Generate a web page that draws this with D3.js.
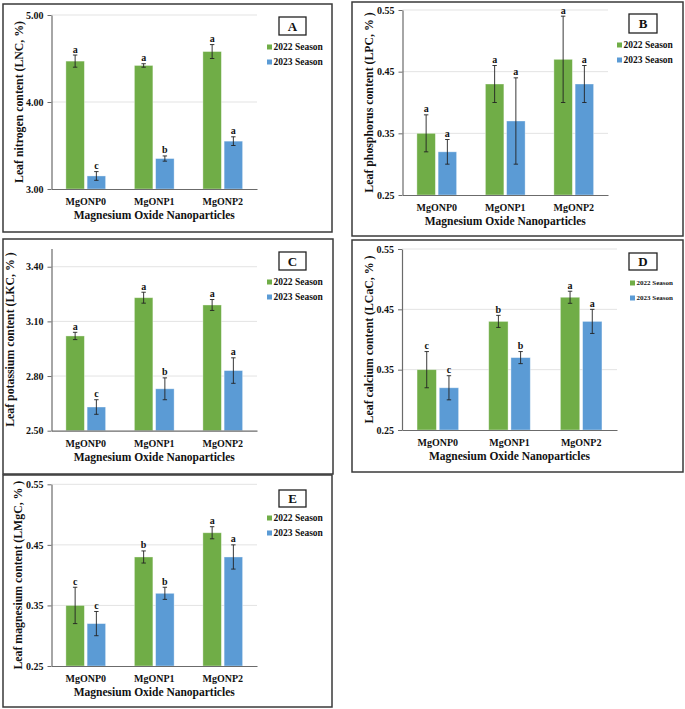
<!DOCTYPE html>
<html>
<head>
<meta charset="utf-8">
<script src="https://cdn.jsdelivr.net/npm/d3@7"></script>
<style>
  body { margin: 0; background: #fff; }
  svg { display: block; }
  text { font-family: "Liberation Serif", "Times New Roman", serif; font-weight: bold; fill: #111; }
</style>
</head>
<body>
<div id="chart"></div>
<script>
// Shared categories and series
const categories = ["MgONP0", "MgONP1", "MgONP2"];
const seasons = ["2022 Season", "2023 Season"];
const seasonColors = ["#70AD47", "#5B9BD5"];

// A - nitrogen
const nitrogen2022 = [4.47, 4.42, 4.58];
const nitrogen2023 = [3.15, 3.35, 3.55];
const nitrogenErr2022 = [0.07, 0.02, 0.08];
const nitrogenErr2023 = [0.05, 0.03, 0.05];
const nitrogenLetters2022 = ["a", "a", "a"];
const nitrogenLetters2023 = ["c", "b", "a"];
const nitrogenTicks = [3.0, 4.0, 5.0];

// B - phosphorus
const phosphorus2022 = [0.35, 0.43, 0.47];
const phosphorus2023 = [0.32, 0.37, 0.43];
const phosphorusErr2022 = [0.03, 0.03, 0.07];
const phosphorusErr2023 = [0.02, 0.07, 0.03];
const phosphorusLetters2022 = ["a", "a", "a"];
const phosphorusLetters2023 = ["a", "a", "a"];
const phosphorusTicks = [0.25, 0.35, 0.45, 0.55];

// C - potassium
const potassium2022 = [3.02, 3.23, 3.19];
const potassium2023 = [2.63, 2.73, 2.83];
const potassiumErr2022 = [0.02, 0.03, 0.03];
const potassiumErr2023 = [0.04, 0.06, 0.07];
const potassiumLetters2022 = ["a", "a", "a"];
const potassiumLetters2023 = ["c", "b", "a"];
const potassiumTicks = [2.5, 2.8, 3.1, 3.4];

// D - calcium
const calcium2022 = [0.35, 0.43, 0.47];
const calcium2023 = [0.32, 0.37, 0.43];
const calciumErr2022 = [0.03, 0.01, 0.01];
const calciumErr2023 = [0.02, 0.01, 0.02];
const calciumLetters2022 = ["c", "b", "a"];
const calciumLetters2023 = ["c", "b", "a"];
const calciumTicks = [0.25, 0.35, 0.45, 0.55];

// E - magnesium
const magnesium2022 = [0.35, 0.43, 0.47];
const magnesium2023 = [0.32, 0.37, 0.43];
const magnesiumErr2022 = [0.03, 0.01, 0.01];
const magnesiumErr2023 = [0.02, 0.01, 0.02];
const magnesiumLetters2022 = ["c", "b", "a"];
const magnesiumLetters2023 = ["c", "b", "a"];
const magnesiumTicks = [0.25, 0.35, 0.45, 0.55];

const xTitle = "Magnesium Oxide Nanoparticles";

// Panel layout (page pixels)
const panels = [
  { tag: "A", yTitle: "Leaf nitrogen content (LNC, %)", domain: [3, 5], ticks: nitrogenTicks,
    values: [nitrogen2022, nitrogen2023], errs: [nitrogenErr2022, nitrogenErr2023],
    letters: [nitrogenLetters2022, nitrogenLetters2023],
    box: [3, 4, 332, 232], plot: { left: 51.5, top: 15, right: 257, bottom: 189 }, yTitleX: 23,
    tagBox: [279, 17, 27, 18], legend: { x: 267, y: 47, size: 9.5 } },
  { tag: "B", yTitle: "Leaf phosphorus content (LPC, % )", domain: [0.25, 0.55], ticks: phosphorusTicks,
    values: [phosphorus2022, phosphorus2023], errs: [phosphorusErr2022, phosphorusErr2023],
    letters: [phosphorusLetters2022, phosphorusLetters2023],
    box: [352, 2, 683, 236], plot: { left: 402.5, top: 10, right: 608, bottom: 195 }, yTitleX: 373,
    tagBox: [629, 14, 28, 19], legend: { x: 617, y: 45, size: 9.5 } },
  { tag: "C", yTitle: "Leaf potassium content (LKC, % )", domain: [2.5, 3.5], ticks: potassiumTicks,
    values: [potassium2022, potassium2023], errs: [potassiumErr2022, potassiumErr2023],
    letters: [potassiumLetters2022, potassiumLetters2023],
    box: [3, 239, 333, 474], plot: { left: 51.5, top: 248.5, right: 257, bottom: 430.7 }, yTitleX: 14,
    tagBox: [279, 252, 27, 18], legend: { x: 267, y: 282, size: 9.5 } },
  { tag: "D", yTitle: "Leaf calcium content (LCaC, % )", domain: [0.25, 0.55], ticks: calciumTicks,
    values: [calcium2022, calcium2023], errs: [calciumErr2022, calciumErr2023],
    letters: [calciumLetters2022, calciumLetters2023],
    box: [352, 240, 683, 472], plot: { left: 402, top: 249, right: 617, bottom: 430 }, yTitleX: 373,
    tagBox: [629, 253, 28, 17], legend: { x: 630, y: 283, size: 7 } },
  { tag: "E", yTitle: "Leaf magnesium content (LMgC, % )", domain: [0.25, 0.55], ticks: magnesiumTicks,
    values: [magnesium2022, magnesium2023], errs: [magnesiumErr2022, magnesiumErr2023],
    letters: [magnesiumLetters2022, magnesiumLetters2023],
    box: [3, 475, 332, 707], plot: { left: 51.5, top: 484.3, right: 257, bottom: 666 }, yTitleX: 22,
    tagBox: [279, 490, 27, 17], legend: { x: 267, y: 518, size: 9.5 } }
];

const svg = d3.select("#chart")
  .append("svg")
  .attr("width", 685)
  .attr("height", 709);

svg.append("rect").attr("width", 685).attr("height", 709).attr("fill", "#fff");

function drawPanel(p) {
  const g = svg.append("g").attr("class", "panel-" + p.tag);
  const { left, top, right, bottom } = p.plot;

  // outer frame
  g.append("rect")
    .attr("x", p.box[0]).attr("y", p.box[1])
    .attr("width", p.box[2] - p.box[0]).attr("height", p.box[3] - p.box[1])
    .attr("fill", "none").attr("stroke", "#3a3a3a").attr("stroke-width", 1.5);

  const x = d3.scaleBand().domain(categories).range([left, right]);
  const y = d3.scaleLinear().domain(p.domain).range([bottom, top]);

  // gridlines
  g.append("g")
    .selectAll("line")
    .data(p.ticks.slice(1))
    .enter()
    .append("line")
    .attr("x1", left).attr("x2", right)
    .attr("y1", d => y(d)).attr("y2", d => y(d))
    .attr("stroke", "#e3e3e3").attr("stroke-width", 1);

  // y axis
  const yAxis = g.append("g")
    .attr("transform", `translate(${left},0)`)
    .call(d3.axisLeft(y).tickValues(p.ticks).tickFormat(d3.format(".2f")).tickSizeInner(4).tickSizeOuter(0).tickPadding(4));
  yAxis.select(".domain").attr("stroke", "#6b6b6b").attr("stroke-width", 1.2);
  yAxis.selectAll(".tick line").attr("stroke", "#6b6b6b");
  yAxis.selectAll("text").style("font-size", "10px").attr("fill", "#111");

  // bars
  const band = x.bandwidth();
  const barW = band * 0.27;
  const innerGap = band * 0.04;
  const offsets = [-innerGap / 2 - barW, innerGap / 2];

  seasons.forEach((s, si) => {
    const rows = categories.map((c, i) => ({
      cat: c, v: p.values[si][i], e: p.errs[si][i], letter: p.letters[si][i]
    }));
    const bx = d => x(d.cat) + band / 2 + offsets[si];

    g.append("g").selectAll("rect")
      .data(rows)
      .enter()
      .append("rect")
      .attr("x", bx)
      .attr("y", d => y(d.v))
      .attr("width", barW)
      .attr("height", d => y(p.domain[0]) - y(d.v))
      .attr("fill", seasonColors[si])
      .attr("stroke", "rgba(255,255,255,0.45)")
      .attr("stroke-width", 0.8);

    // error bars
    const eb = g.append("g").selectAll("g")
      .data(rows)
      .enter()
      .append("g")
      .attr("stroke", "#222")
      .attr("stroke-width", 0.9);
    eb.append("line")
      .attr("x1", d => bx(d) + barW / 2).attr("x2", d => bx(d) + barW / 2)
      .attr("y1", d => y(d.v + d.e)).attr("y2", d => y(d.v - d.e));
    eb.append("line")
      .attr("x1", d => bx(d) + barW / 2 - 2.2).attr("x2", d => bx(d) + barW / 2 + 2.2)
      .attr("y1", d => y(d.v + d.e)).attr("y2", d => y(d.v + d.e));
    eb.append("line")
      .attr("x1", d => bx(d) + barW / 2 - 2.2).attr("x2", d => bx(d) + barW / 2 + 2.2)
      .attr("y1", d => y(d.v - d.e)).attr("y2", d => y(d.v - d.e));

    // significance letters
    g.append("g").selectAll("text")
      .data(rows)
      .enter()
      .append("text")
      .attr("x", d => bx(d) + barW / 2)
      .attr("y", d => y(d.v + d.e) - 2.5)
      .attr("text-anchor", "middle")
      .style("font-size", "10px")
      .text(d => d.letter);
  });

  // x axis
  const xAxis = g.append("g")
    .attr("transform", `translate(0,${bottom})`)
    .call(d3.axisBottom(x).tickSize(0).tickPadding(9));
  xAxis.select(".domain").attr("stroke", "#6b6b6b").attr("stroke-width", 1.2);
  xAxis.selectAll("text").style("font-size", "10px").attr("fill", "#111");

  // x title
  g.append("text")
    .attr("x", (left + right) / 2)
    .attr("y", bottom + 30)
    .attr("text-anchor", "middle")
    .style("font-size", "11.5px")
    .text(xTitle);

  // y title
  g.append("text")
    .attr("transform", `translate(${p.yTitleX},${(top + bottom) / 2}) rotate(-90)`)
    .attr("text-anchor", "middle")
    .style("font-size", "11.8px")
    .text(p.yTitle);

  // tag box
  g.append("rect")
    .attr("x", p.tagBox[0]).attr("y", p.tagBox[1])
    .attr("width", p.tagBox[2]).attr("height", p.tagBox[3])
    .attr("fill", "#fff").attr("stroke", "#222").attr("stroke-width", 1.3);
  g.append("text")
    .attr("x", p.tagBox[0] + p.tagBox[2] / 2)
    .attr("y", p.tagBox[1] + p.tagBox[3] / 2)
    .attr("dy", "0.36em")
    .attr("text-anchor", "middle")
    .style("font-size", "13px")
    .text(p.tag);

  // legend
  const leg = g.append("g").selectAll("g")
    .data(seasons)
    .enter()
    .append("g")
    .attr("transform", (d, i) => `translate(${p.legend.x},${p.legend.y + i * 15})`);
  leg.append("rect")
    .attr("x", 0).attr("y", -2.5)
    .attr("width", 5).attr("height", 5)
    .attr("fill", (d, i) => seasonColors[i]);
  leg.append("text")
    .attr("x", 6.5)
    .attr("dy", "0.34em")
    .style("font-size", p.legend.size + "px")
    .text(d => d);
}

panels.forEach(drawPanel);
</script>
</body>
</html>
